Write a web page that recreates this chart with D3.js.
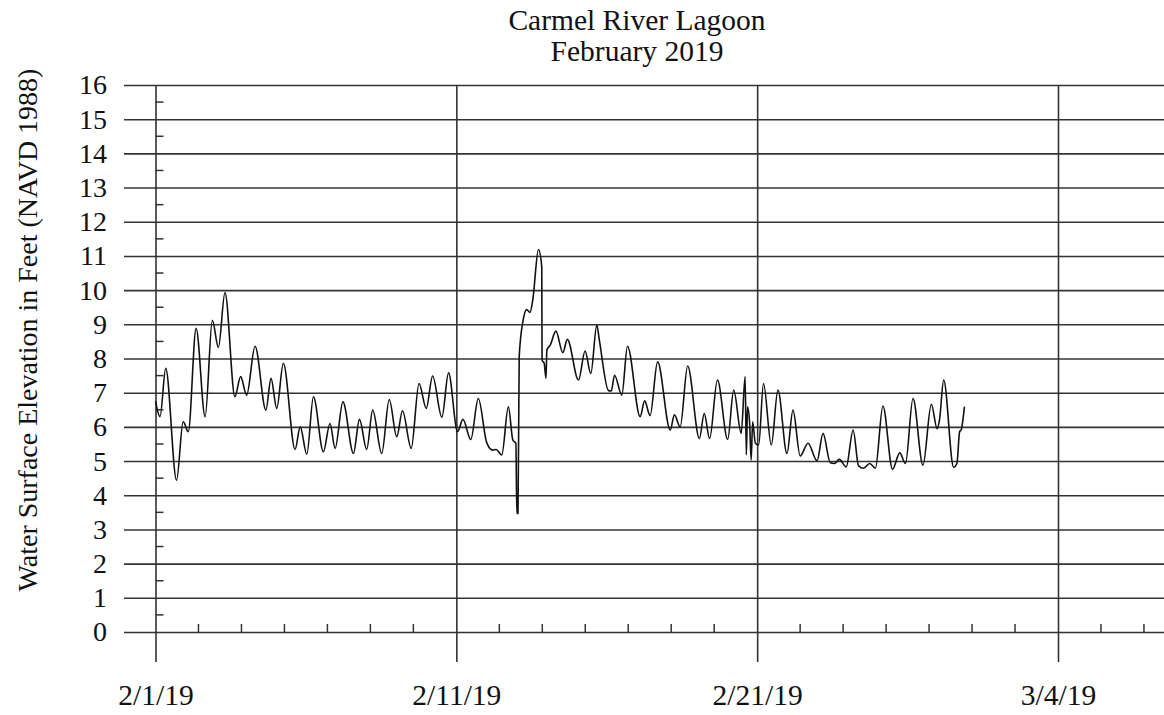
<!DOCTYPE html>
<html>
<head>
<meta charset="utf-8">
<script src="https://cdn.jsdelivr.net/npm/d3@7"></script>
<style>
  html, body { margin: 0; padding: 0; background: #fff; }
  svg { display: block; font-family: "Liberation Serif", "Times New Roman", serif; }
</style>
</head>
<body>
<svg id="chart" width="1164" height="715"></svg>
<script>
// Lagoon water surface elevation, days elapsed since 2/1/19 (00:00)
const days = [
  0.00, 0.15, 0.34, 0.70, 0.92, 1.09, 1.35, 1.65, 1.89, 2.09, 2.31, 2.64, 2.83, 3.03, 3.31, 3.67,
  3.84, 4.03, 4.25, 4.64, 4.81, 5.03, 5.25, 5.58, 5.80, 5.97, 6.23, 6.58, 6.78, 7.02, 7.22, 7.52,
  7.77, 8.02, 8.21, 8.50, 8.76, 9.00, 9.21, 9.52, 9.74, 10.04, 10.22, 10.48, 10.73, 11.01, 11.21, 11.32,
  11.51, 11.73, 11.88, 11.98, 12.01, 12.05, 12.09, 12.21, 12.34, 12.45, 12.54, 12.73, 12.84, 12.85,
  12.92, 12.98, 13.01, 13.12, 13.31, 13.54, 13.69, 14.06, 14.28, 14.47, 14.67, 14.75, 15.06, 15.15,
  15.26, 15.50, 15.69, 16.11, 16.26, 16.44, 16.69, 17.11, 17.25, 17.44, 17.69, 18.08, 18.24, 18.42,
  18.68, 19.02, 19.22, 19.47, 19.60, 19.64, 19.68, 19.75, 19.80, 19.85, 19.94, 20.05, 20.21, 20.47,
  20.69, 20.99, 21.19, 21.43, 21.69, 21.99, 22.19, 22.43, 22.57, 22.73, 22.96, 23.19, 23.37, 23.54,
  23.74, 23.93, 24.18, 24.50, 24.74, 24.93, 25.18, 25.51, 25.79, 25.98, 26.06, 26.20, 26.53, 26.64,
  26.73, 26.78, 26.89
];
const elevation = [
  6.75, 6.30, 7.71, 4.44, 6.15, 5.86, 8.88, 6.30, 9.12, 8.32, 9.93, 6.88, 7.47, 6.93, 8.36, 6.49,
  7.42, 6.54, 7.86, 5.34, 6.00, 5.20, 6.88, 5.27, 6.10, 5.37, 6.73, 5.22, 6.22, 5.34, 6.49, 5.22,
  6.80, 5.71, 6.47, 5.37, 7.27, 6.54, 7.49, 6.28, 7.58, 5.86, 6.22, 5.63, 6.83, 5.54, 5.32, 5.34,
  5.18, 6.59, 5.61, 5.52, 3.47, 3.47, 8.05, 9.07, 9.43, 9.35, 9.71, 11.19, 10.68, 7.95,
  7.86, 7.42, 8.25, 8.39, 8.80, 8.17, 8.56, 7.37, 8.22, 7.56, 8.98, 8.56, 7.06, 7.05,
  7.51, 6.93, 8.36, 6.30, 6.76, 6.33, 7.90, 5.91, 6.35, 6.00, 7.78, 5.66, 6.39, 5.66,
  7.37, 5.63, 7.08, 5.81, 7.47, 5.18, 6.59, 6.10, 5.03, 6.15, 5.52, 5.47, 7.27, 5.47,
  7.08, 5.22, 6.49, 5.15, 5.52, 5.01, 5.81, 4.95, 4.93, 5.05, 4.83, 5.91, 4.86, 4.79,
  4.93, 4.79, 6.61, 4.76, 5.24, 4.93, 6.83, 4.88, 6.66, 5.95, 6.20, 7.37, 4.82, 4.93,
  5.86, 5.91, 6.59
];

// Axis ticks
const yTicks = d3.range(0, 17);
const yMinorTicks = d3.range(0.5, 16, 1);
const xMajorDays = [0, 10, 20, 30];
const xTickLabels = ["2/1/19", "2/11/19", "2/21/19", "3/4/19"];
const xMinorStep = 10 / 7;

const titleLines = ["Carmel River Lagoon", "February 2019"];
const yTitle = "Water Surface Elevation in Feet (NAVD 1988)";

// Layout
const svg = d3.select("#chart");
const serif = "Liberation Serif, Times New Roman, serif";
const gridLeft = 124, gridRight = 1164;
const plotTop = 85, plotBottom = 632, vLineBottom = 662;
const gridColor = "#333";

const x = d3.scaleLinear().domain([0, 30]).range([155.5, 1058]);
const y = d3.scaleLinear().domain([0, 16]).range([plotBottom, plotTop]);

// Horizontal gridlines and value labels
const yAxis = d3.axisLeft(y)
  .tickValues(yTicks)
  .tickFormat(d3.format("d"))
  .tickSize(-(gridRight - gridLeft))
  .tickPadding(17);
const gy = svg.append("g").attr("transform", `translate(${gridLeft},0)`).call(yAxis);
gy.select(".domain").remove();
gy.selectAll(".tick line").attr("stroke", gridColor).attr("stroke-width", 1.6);
gy.selectAll(".tick text")
  .attr("font-size", 28)
  .attr("font-family", serif)
  .attr("fill", "#111");

// Vertical date gridlines and date labels
const xAxis = d3.axisBottom(x)
  .tickValues(xMajorDays)
  .tickFormat((d, i) => xTickLabels[i])
  .tickSize(-(vLineBottom - plotTop))
  .tickPadding(0);
const gx = svg.append("g").attr("transform", `translate(0,${vLineBottom})`).call(xAxis);
gx.select(".domain").remove();
gx.selectAll(".tick line").attr("stroke", gridColor).attr("stroke-width", 1.6);
gx.selectAll(".tick text")
  .attr("y", 43)
  .attr("dy", 0)
  .attr("font-size", 29.5)
  .attr("font-family", serif)
  .attr("fill", "#111");

// Minor ticks along the value axis (pointing into the plot)
svg.append("g").selectAll("line")
  .data(yMinorTicks)
  .join("line")
  .attr("x1", x(0)).attr("x2", x(0) + 8)
  .attr("y1", d => y(d)).attr("y2", d => y(d))
  .attr("stroke", gridColor).attr("stroke-width", 1.5);

// Minor ticks along the date axis
const xMinor = d3.range(0, 35, xMinorStep)
  .filter(d => Math.abs(d / 10 - Math.round(d / 10)) > 1e-6)
  .filter(d => x(d) < gridRight);
svg.append("g").selectAll("line")
  .data(xMinor)
  .join("line")
  .attr("x1", d => x(d)).attr("x2", d => x(d))
  .attr("y1", y(0)).attr("y2", y(0) - 8)
  .attr("stroke", gridColor).attr("stroke-width", 1.5);

// Elevation trace
const series = days.map((d, i) => ({ t: d, v: elevation[i] }));
const line = d3.line()
  .x(d => x(d.t))
  .y(d => y(d.v))
  .curve(d3.curveMonotoneX);
svg.append("path")
  .datum(series)
  .attr("d", line)
  .attr("fill", "none")
  .attr("stroke", "#111")
  .attr("stroke-width", 1.6)
  .attr("stroke-linejoin", "round");

// Title
svg.append("g").selectAll("text")
  .data(titleLines)
  .join("text")
  .attr("x", 637)
  .attr("y", (d, i) => 30 + i * 31)
  .attr("text-anchor", "middle")
  .attr("font-size", 29.5)
  .attr("font-family", serif)
  .attr("fill", "#111")
  .text(d => d);

// Value axis title
svg.append("text")
  .attr("transform", `translate(37,330) rotate(-90)`)
  .attr("text-anchor", "middle")
  .attr("font-size", 28)
  .attr("font-family", serif)
  .attr("fill", "#111")
  .text(yTitle);
</script>
</body>
</html>
